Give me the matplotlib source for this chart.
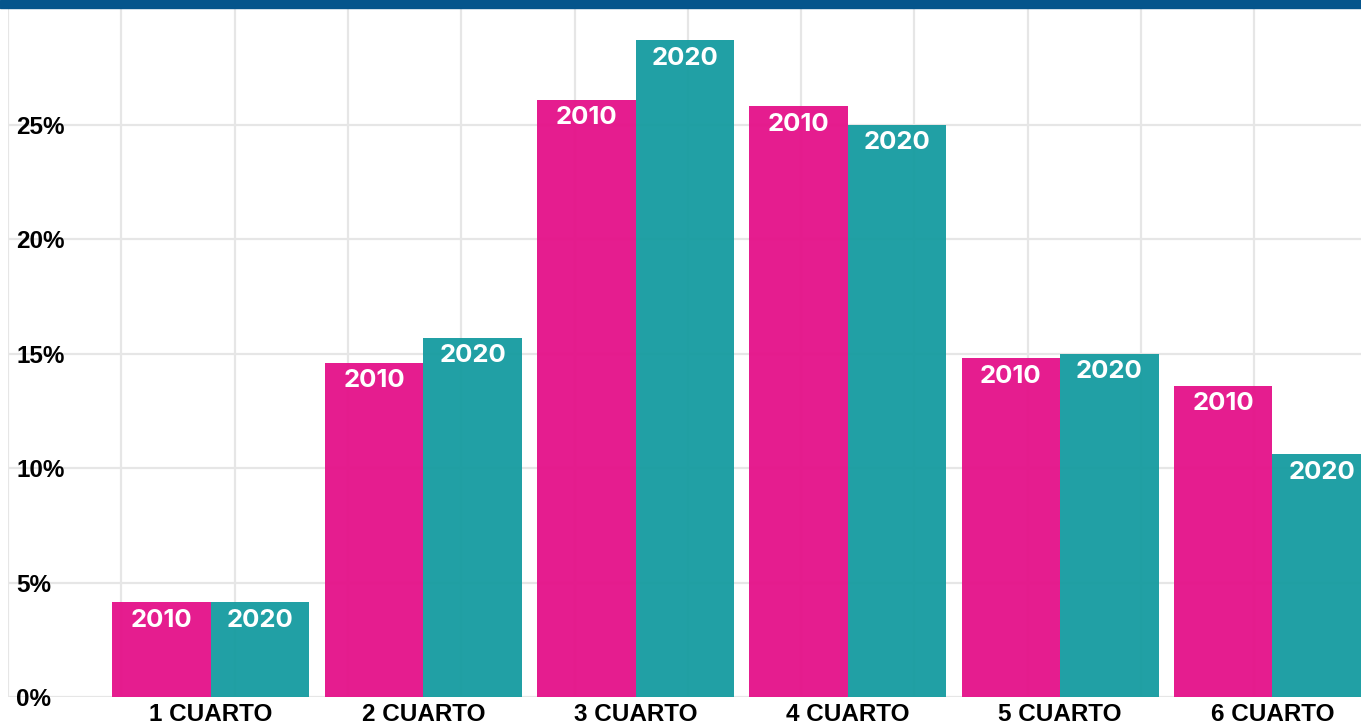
import matplotlib
matplotlib.use("Agg")
import matplotlib.pyplot as plt
import numpy as np
from matplotlib.patches import Rectangle

categories = ["1 CUARTO", "2 CUARTO", "3 CUARTO", "4 CUARTO", "5 CUARTO", "6 CUARTO"]
series_names = ["2010", "2020"]
values_2010 = [4.15, 14.6, 26.1, 25.8, 14.8, 13.6]
values_2020 = [4.15, 15.7, 28.7, 25.0, 15.0, 10.6]
y_ticks = [0, 5, 10, 15, 20, 25]
y_tick_labels = ["0%", "5%", "10%", "15%", "20%", "25%"]

pink = "#E4138A"
teal = "#189CA1"
topbar = "#05558C"
grid_c = "#E6E6E6"

W, H = 1361, 726
fig = plt.figure(figsize=(W / 100, H / 100), dpi=100)
ax = fig.add_axes([8 / W, (H - 697) / H, (W - 8) / W, (697 - 8) / H])

x = np.arange(len(categories))
bw = 0.464
b1 = ax.bar(x - bw / 2, values_2010, width=bw, color=pink, alpha=0.96, zorder=2, linewidth=0)
b2 = ax.bar(x + bw / 2, values_2020, width=bw, color=teal, alpha=0.96, zorder=2, linewidth=0)

ax.set_xlim(-0.956, 5.417)
ax.set_ylim(0, 30.1)

# grid
for yv in y_ticks:
    ax.axhline(yv, color=grid_c, lw=1.6, zorder=1)
fracs = [k * 113.3 / 1353 for k in range(13)]
ax.vlines(fracs, 0, 1, transform=ax.transAxes, color=grid_c, lw=1.6, zorder=1)

for s in ax.spines.values():
    s.set_visible(False)

ax.set_yticks(y_ticks)
ax.set_yticklabels(y_tick_labels, fontsize=17.5, fontweight="bold", family="Liberation Sans")
ax.tick_params(axis="y", length=0, pad=-6)
for t in ax.get_yticklabels():
    t.set_horizontalalignment("left")

ax.set_xticks(x)
ax.set_xticklabels(categories, fontsize=17.5, fontweight="bold", family="Liberation Sans")
ax.tick_params(axis="x", length=0, pad=4)

for bars, name in [(b1, series_names[0]), (b2, series_names[1])]:
    for r in bars:
        ax.annotate(name, (r.get_x() + r.get_width() / 2, r.get_height()),
                    xytext=(0, -13), textcoords="offset points",
                    ha="center", va="center", color="white",
                    fontsize=18.5, fontweight="bold", family="Inter", zorder=3)

fig.patches.append(Rectangle((0, (H - 8) / H), 1, 8 / H, transform=fig.transFigure,
                             color=topbar, zorder=5))

fig.savefig("out.png", dpi=100, facecolor="white")
